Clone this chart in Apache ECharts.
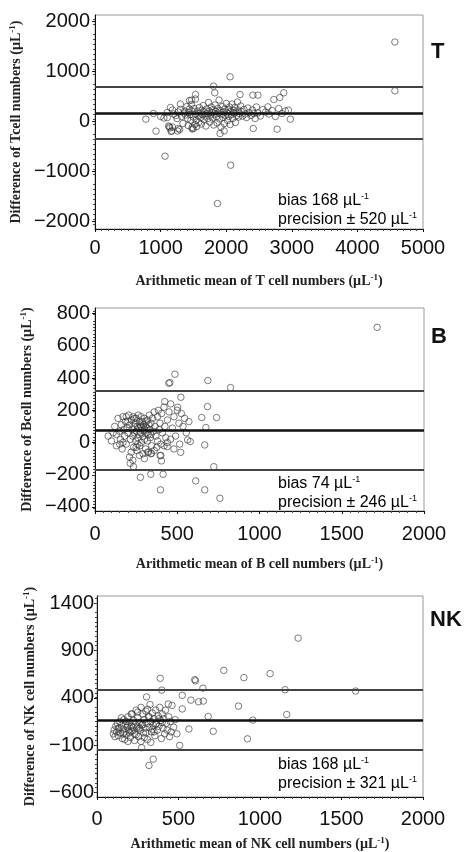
<!DOCTYPE html>
<html><head><meta charset="utf-8">
<script src="https://cdn.jsdelivr.net/npm/echarts@6/dist/echarts.min.js"></script>
<style>html,body{margin:0;padding:0;background:#fff}#c{width:464px;height:852px}</style>
</head><body><div id="c"></div><script>
// ---- T cells: [mean, difference]
const tPoints = [
[4571,1590],[4571,614],[2058,894],[1805,707],[1825,574],[1067,-694],[2068,-874],[1866,-1640],
[774,47],[930,-193],[890,160],[1102,80],[1133,-107],[1168,-187],[1269,-140],[1532,540],[1471,427],
[1906,-240],[1967,-187],[2210,540],[2407,527],[2483,527],[2412,-140],[2776,-153],[2877,574],[2817,480],
[2726,440],[2978,47],[2948,227],[2634,293],
[1150,280],[1180,230],[1200,150],[1230,120],[1250,60],[1270,190],[1300,240],[1320,100],[1340,-40],[1350,170],
[1370,210],[1380,130],[1400,300],[1410,60],[1420,-80],[1430,180],[1440,250],[1450,140],[1460,20],[1470,340],
[1480,-120],[1490,200],[1500,90],[1510,260],[1520,-60],[1530,150],[1540,30],[1550,-100],[1560,210],[1570,120],
[1580,-20],[1590,280],[1600,170],[1610,80],[1620,-50],[1630,230],[1640,140],[1650,320],[1660,40],[1670,190],
[1680,110],[1690,-90],[1700,250],[1710,160],[1720,60],[1730,380],[1740,210],[1750,-10],[1760,130],[1770,290],
[1780,180],[1790,70],[1800,240],[1810,-70],[1820,150],[1830,330],[1840,200],[1850,100],[1860,-30],[1870,260],
[1880,170],[1890,430],[1900,50],[1910,220],[1920,-110],[1930,140],[1940,300],[1950,80],[1960,190],[1970,-40],
[1980,250],[1990,120],[2000,360],[2010,170],[2020,20],[2030,230],[2040,100],[2050,290],[2060,-60],[2070,200],
[2080,140],[2090,350],[2100,60],[2110,220],[2120,170],[2130,280],[2140,-20],[2150,190],[2160,120],[2170,390],
[2180,230],[2190,90],[2200,160],[2220,310],[2230,200],[2250,110],[2270,240],[2290,150],[2310,80],[2330,270],
[2350,180],[2380,120],[2400,230],[2420,160],[2440,60],[2460,290],[2480,170],[2520,110],[2560,240],[2600,190],
[2650,150],[2700,220],[2750,100],[2800,260],[2850,160],[2900,210],
[1000,100],[1050,70],[1100,180],[1120,-90],[1140,-130],[1160,-200],[1180,-110],[1260,-190],[1290,-160],
[1480,-150],[1500,-140],[1530,450],[1440,420],[1300,350]
];
const tBias = 168, tPrecision = 520;

// ---- B cells
const bPoints = [
[1715,715],[486,424],[449,368],[455,372],[686,385],[824,341],[522,281],[424,254],[502,219],[684,223],[739,155],
[649,155],[674,93],[571,130],[563,16],[579,6],[667,-15],[521,-61],[439,-25],[722,-150],[214,-129],[234,-150],
[276,-216],[339,-197],[414,-197],[398,-294],[612,-238],[667,-294],[759,-346],[404,-114],[396,-81],[343,-67],
[80,40],[100,10],[110,60],[120,100],[130,-20],[140,150],[150,70],[155,20],[160,110],[165,-40],[170,160],[175,80],
[180,40],[185,130],[190,-10],[195,90],[200,60],[205,170],[210,110],[215,20],[220,-60],[222,140],[225,80],[230,40],
[232,160],[235,-30],[238,100],[240,60],[245,120],[248,10],[250,150],[252,70],[255,-50],[258,100],[260,30],[262,170],
[265,90],[268,50],[270,130],[272,-20],[275,110],[278,60],[280,160],[282,0],[285,90],[288,130],[290,40],[292,-70],
[295,110],[298,70],[300,150],[302,20],[305,100],[308,-40],[310,60],[312,130],[315,90],[318,10],[320,140],[322,50],
[325,-60],[328,110],[330,170],[333,80],[336,30],[340,120],[345,-20],[350,150],[355,70],[360,190],[365,100],[370,40],
[375,-30],[380,160],[385,200],[390,80],[395,120],[400,-10],[405,180],[410,60],[420,220],[425,100],[430,30],[440,140],
[450,190],[460,240],[470,90],[480,160],[490,40],[500,200],[510,120],[515,-10],[525,180],[535,100],[545,150],[555,60],
[190,160],[210,-90],[230,-110],[250,-30],[270,-80],[300,-100],[320,-60],[340,-70],[360,-50],[400,-80],[420,-20],
[440,0],[460,20],[480,-40],[170,0],[130,50],[150,-10],[200,130],[240,150],[260,-10],[280,100],[300,80],[340,50],[380,10]
];
const bBias = 74, bPrecision = 246;

// ---- NK cells
const nkPoints = [
[1234,1032],[778,691],[1062,656],[901,614],[388,607],[600,593],[604,580],[650,503],[397,482],[1154,486],[1587,472],
[523,427],[304,410],[576,376],[623,359],[652,366],[868,313],[523,283],[437,335],[682,203],[1164,224],[956,165],
[564,71],[713,47],[923,-33],[507,-102],[274,-127],[345,-248],[319,-314],
[100,20],[105,60],[110,-10],[115,100],[120,40],[125,130],[130,0],[135,80],[140,150],[145,30],[150,110],[155,-30],
[160,70],[165,170],[170,40],[175,120],[180,10],[185,90],[190,200],[195,60],[200,140],[205,-20],[210,100],[215,230],
[220,50],[225,160],[230,20],[235,120],[240,270],[245,80],[250,190],[255,-10],[260,140],[265,60],[270,300],[275,110],
[280,230],[285,30],[290,170],[295,80],[300,260],[305,130],[310,-40],[315,200],[320,90],[325,330],[330,150],[335,40],
[340,240],[345,110],[350,180],[355,0],[360,270],[365,130],[370,60],[375,210],[380,100],[385,300],[390,160],[395,-30],
[400,230],[405,80],[410,180],[415,20],[420,270],[425,130],[430,60],[440,200],[445,-10],[450,150],[455,40],[460,320],
[470,90],[480,170],[490,20],[150,190],[170,-40],[190,-60],[210,230],[230,-50],[250,250],[270,-60],[290,-20],[310,280],
[330,-70],[350,40],[200,30],[220,90],[240,10],[260,80],[280,120],[300,30],[320,200],[340,70],[360,120],[380,180],
[400,140],[130,80],[160,20],[180,150],[210,50],[250,100],[190,110]
];
const nkBias = 168, nkPrecision = 321;

// ---- axis ticks / labels
const tXTicks = [0,1000,2000,3000,4000,5000];
const tYTicks = [-2000,-1000,0,1000,2000];
const bXTicks = [0,500,1000,1500,2000];
const bYTicks = [-400,-200,0,200,400,600,800];
const nkXTicks = [0,500,1000,1500,2000];
const nkYTicks = [-600,-100,400,900,1400];
const panelLetters = ['T','B','NK'];
const xTitles = ['Arithmetic mean of T cell numbers (µL','Arithmetic mean of B cell numbers (µL','Arithmetic mean of NK cell numbers (µL'];
const yTitles = ['Difference of Tcell numbers (µL','Difference of Bcell numbers (µL','Difference of NK cell numbers (µL'];

const chart = echarts.init(document.getElementById('c'));
const fmt = v => v < 0 ? '\u2212' + Math.abs(v) : String(v);
const titleRich = {
  a:{fontFamily:'Liberation Serif',fontWeight:'bold',fontSize:14,color:'#222'},
  s:{fontFamily:'Liberation Serif',fontWeight:'bold',fontSize:9,color:'#222',verticalAlign:'top',padding:[0,0,7,0]}
};
function xAxis(i, min, max, interval, ticks, gap, margin){
  return {type:'value', gridIndex:i, min:min, max:max, interval:interval,
    name:'{a|'+xTitles[i]+'}{s|-1}{a|)}', nameLocation:'middle', nameGap:gap,
    nameTextStyle:{rich:titleRich},
    axisLine:{show:true,onZero:false,lineStyle:{color:'#111',width:1}},
    axisTick:{show:true,length:3,lineStyle:{color:'#111'}},
    minorTick:{show:true,splitNumber:10,length:2,lineStyle:{color:'#444'}},
    axisLabel:{fontFamily:'Liberation Sans',fontSize:20,color:'#111',margin:margin,formatter:fmt,customValues:ticks},
    splitLine:{show:false}};
}
function yAxis(i, min, max, interval, ticks, gap, margin){
  return {type:'value', gridIndex:i, min:min, max:max, interval:interval,
    name:'{a|'+yTitles[i]+'}{s|-1}{a|)}', nameLocation:'middle', nameGap:gap, nameRotate:90,
    nameTextStyle:{rich:titleRich},
    axisLine:{show:true,onZero:false,lineStyle:{color:'#111',width:1}},
    axisTick:{show:true,length:3,lineStyle:{color:'#111'},customValues:ticks},
    minorTick:{show:true,splitNumber:10,length:2,lineStyle:{color:'#444'}},
    axisLabel:{fontFamily:'Liberation Sans',fontSize:20,color:'#111',margin:margin,formatter:fmt,customValues:ticks},
    splitLine:{show:false}};
}
function scatter(i, pts, bias, prec){
  return {type:'scatter', xAxisIndex:i, yAxisIndex:i, data:pts, symbol:'circle', symbolSize:6.5,
    itemStyle:{color:'rgba(0,0,0,0)',borderColor:'#333',borderWidth:0.8},
    markLine:{silent:true, symbol:'none', label:{show:false},
      data:[
        {yAxis:bias+prec, lineStyle:{color:'#444',width:1.8,type:'solid'}},
        {yAxis:bias, lineStyle:{color:'#111',width:2.5,type:'solid'}},
        {yAxis:bias-prec, lineStyle:{color:'#444',width:1.8,type:'solid'}}
      ]}};
}
const annRich = {n:{fontFamily:'Liberation Sans',fontSize:16,color:'#333'},
                 s:{fontFamily:'Liberation Sans',fontSize:9,color:'#333',verticalAlign:'top',padding:[0,0,9,0]}};
function ann(y, bias, prec){
  return [
    {type:'text', left:278, top:y-7, style:{text:'{n|bias '+bias+' µL}{s|-1}', rich:annRich}},
    {type:'text', left:278, top:y+12, style:{text:'{n|precision ± '+prec+' µL}{s|-1}', rich:annRich}}
  ];
}
function letter(x, y, t){
  return {type:'text', left:x, top:y, style:{text:t, font:'bold 22px "Liberation Sans"', fill:'#111'}};
}
const option = {
  backgroundColor:'#fff', animation:false,
  grid:[
    {left:93, right:41, top:15, height:214, show:true, borderColor:'#999', borderWidth:1},
    {left:95, right:40, top:308, height:203, show:true, borderColor:'#999', borderWidth:1},
    {left:97, right:41, top:596, height:204, show:true, borderColor:'#999', borderWidth:1}
  ],
  xAxis:[
    xAxis(0, 0, 5000, 1000, tXTicks, 44, 9),
    xAxis(1, 0, 2000, 500, bXTicks, 45, 13),
    xAxis(2, 0, 2000, 500, nkXTicks, 39, 12)
  ],
  yAxis:[
    yAxis(0, -2150, 2130, 1000, tYTicks, 56, 5),
    yAxis(1, -425, 835, 200, bYTicks, 57, 5),
    yAxis(2, -648, 1477, 500, nkYTicks, 59, 3)
  ],
  series:[
    scatter(0, tPoints, tBias, tPrecision),
    scatter(1, bPoints, bBias, bPrecision),
    scatter(2, nkPoints, nkBias, nkPrecision)
  ],
  graphic:[].concat(
    ann(199, tBias, tPrecision), ann(482, bBias, bPrecision), ann(763, nkBias, nkPrecision),
    [letter(431, 41, panelLetters[0]), letter(431, 326, panelLetters[1]), letter(430, 609, panelLetters[2])]
  )
};
chart.setOption(option);
</script></body></html>
